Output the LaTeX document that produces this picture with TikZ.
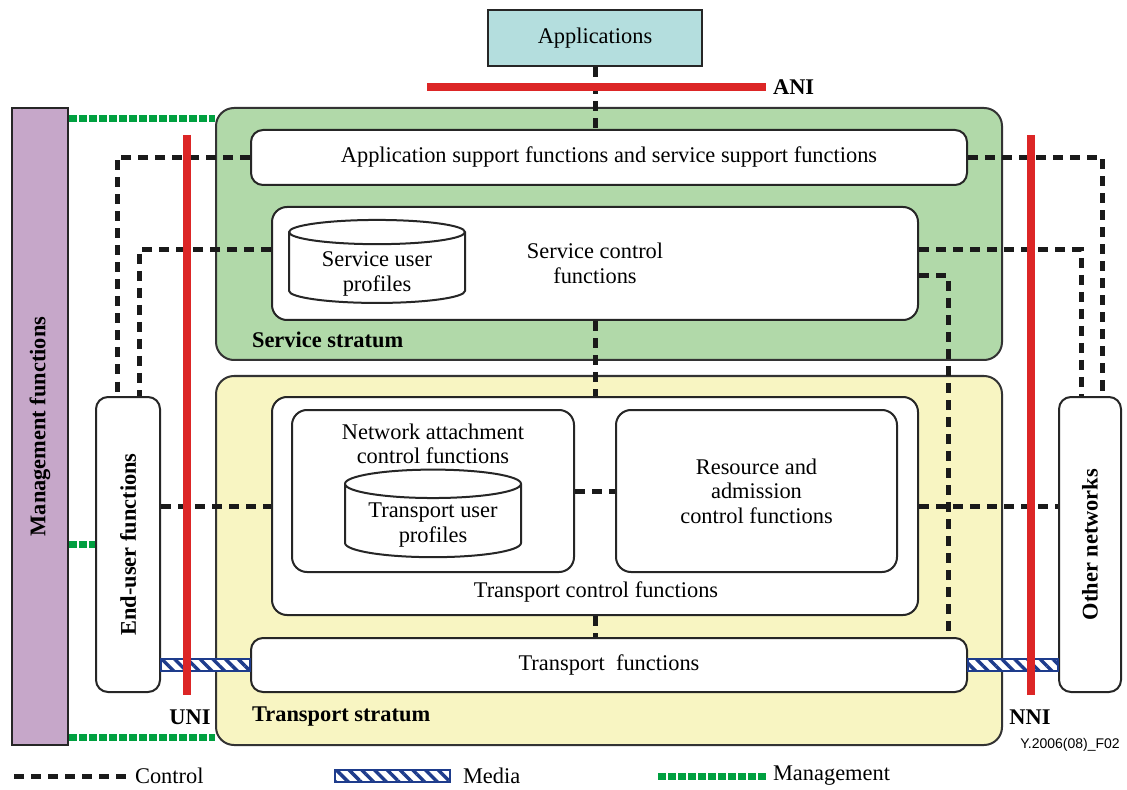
\documentclass[tikz,border=0pt]{standalone}
\usepackage{fontspec}
\setmainfont{Liberation Serif}
\newfontfamily\figfont{Liberation Sans}
\usetikzlibrary{shapes.geometric,patterns.meta}
\definecolor{appcol}{RGB}{180,222,222}
\definecolor{mgmtcol}{RGB}{198,167,201}
\definecolor{svccol}{RGB}{177,217,169}
\definecolor{trpcol}{RGB}{248,245,194}
\definecolor{ifred}{RGB}{220,38,38}
\definecolor{ctl}{RGB}{26,26,26}
\definecolor{mgtgreen}{RGB}{0,160,64}
\definecolor{medianavy}{RGB}{30,60,140}
\begin{document}
\begin{tikzpicture}[x=0.5pt,y=-0.5pt,font=\fontsize{11.2}{12.25}\selectfont]
\tikzstyle{box}=[draw=black!85,line width=1pt,fill=white,rounded corners=6pt,inner sep=0pt,align=center]
\tikzstyle{stratum}=[draw=black!80,line width=1pt,rounded corners=9pt,inner sep=0pt]
\tikzstyle{store}=[cylinder,shape border rotate=90,draw=black!85,line width=1pt,fill=white,aspect=0.22,inner sep=0pt,align=center]
\tikzstyle{control}=[draw=ctl,line width=2.5pt,dash pattern=on 5pt off 3.5pt]
\tikzstyle{mgt}=[draw=mgtgreen,line width=3.5pt,dash pattern=on 4pt off 1pt]
\tikzstyle{media}=[draw=medianavy,line width=0.8pt,preaction={fill=white},pattern={Lines[angle=-45,distance=4.5pt,line width=1.7pt]},pattern color=medianavy]
\tikzstyle{iface}=[draw=ifred,line width=4pt]
\tikzstyle{lbl}=[font=\fontsize{11.2}{12.25}\selectfont\bfseries]
\useasboundingbox (0,0) rectangle (1127,790);
\node[stratum,fill=svccol,minimum width=393pt,minimum height=126pt] (sstrat) at (609,234) {};
\node[stratum,fill=trpcol,minimum width=393pt,minimum height=184.5pt] (tstrat) at (609,560.5) {};
\node[draw=black!85,line width=1pt,fill=mgmtcol,minimum width=28pt,minimum height=318.5pt,inner sep=0pt] (mgmt) at (40,426.5) {};
\node[lbl,rotate=90] (mgmtlbl) at (mgmt) {Management functions};
\node[box,fill=appcol,rounded corners=0pt,minimum width=107pt,minimum height=28pt] (apps) at (595,38) {Applications};
\node[box,minimum width=358pt,minimum height=27.5pt] (asf) at (609,157.5) {Application support functions and service support functions};
\node[box,rounded corners=7.5pt,minimum width=323pt,minimum height=56.5pt] (scf) at (595,263.5) {Service control\\functions};
\node[store,minimum width=88pt,minimum height=41.5pt] (sup) at (377,268) {\phantom{Service user}\\\phantom{profiles}};
\node[align=center] (suplbl) at (377,274) {Service user\\profiles};
\node[box,rounded corners=7.5pt,minimum width=323pt,minimum height=109pt] (tcf) at (595,506) {};
\node (tcflbl) at (596,592) {Transport control functions};
\node[box,rounded corners=7.5pt,minimum width=141pt,minimum height=81pt] (nacf) at (433,491) {};
\node[align=center] (nacflbl) at (433,444) {Network attachment\\control functions};
\node[store,minimum width=88pt,minimum height=40pt] (tup) at (433,521) {\phantom{Transport user}\\\phantom{profiles}};
\node[align=center] (tuplbl) at (433,525) {Transport user\\profiles};
\node[box,rounded corners=7.5pt,minimum width=140.5pt,minimum height=81pt] (racf) at (756.5,491) {Resource and\\admission\\control functions};
\node[box,minimum width=358pt,minimum height=27pt] (tf) at (609,665) {Transport\ \ functions};
\node[box,minimum width=32pt,minimum height=147.5pt] (eu) at (128,544.5) {};
\node[lbl,rotate=90] (eulbl) at (eu) {End-user functions};
\node[box,minimum width=31pt,minimum height=147.5pt] (on) at (1090,544.5) {};
\node[lbl,rotate=90] (onlbl) at (on) {Other networks};
\draw[control] (apps.south) -- (apps.south |- asf.north);
\draw[control] (asf.west) -| ([xshift=-5.5pt]eu.north);
\draw[control] ([yshift=6.75pt]scf.west) -| ([xshift=5.5pt]eu.north);
\draw[control] (asf.east) -| ([xshift=6pt]on.north);
\draw[control] ([yshift=6.75pt]scf.east) -| ([xshift=-4.5pt]on.north);
\draw[control] ([yshift=-6.25pt]scf.east) -| ([xshift=-10pt]tf.north east);
\draw[control] (scf.south) -- (tcf.north);
\draw[control] (tcf.south) -- (tcf.south |- tf.north);
\draw[control] (eu.east |- tcf.west) -- (tcf.west);
\draw[control] (tcf.east) -- (tcf.east -| on.west);
\draw[control] (nacf.east) -- (racf.west);
\coordinate (mgtop) at ([yshift=-6pt]mgmt.north east);
\coordinate (mgbot) at ([yshift=4.5pt]mgmt.south east);
\draw[mgt] (mgtop) -- (mgtop -| sstrat.west);
\draw[mgt] (mgmt.east |- eu.west) -- (eu.west);
\draw[mgt] (mgbot) -- (mgbot -| tstrat.west);
\path[media] ([yshift=3pt]tf.west -| eu.east) rectangle ([yshift=-3pt]tf.west);
\path[media] ([yshift=3pt]tf.east) rectangle ([yshift=-3pt]tf.east -| on.west);
\coordinate (unitop) at (187,135);
\coordinate (unibot) at (187,695);
\coordinate (nnitop) at (1031,135);
\coordinate (nnibot) at (1031,695);
\coordinate (anil) at (427,87);
\node[lbl,anchor=west] (ani) at (766,87) {ANI};
\draw[iface] (unitop) -- (unibot);
\draw[iface] (nnitop) -- (nnibot);
\draw[iface] (anil) -- (anil -| ani.west);
\node[lbl] (uni) at (190,717) {UNI};
\node[lbl] (nni) at (1030,717) {NNI};
\node[lbl,anchor=west] (sslbl) at (245,340) {Service stratum};
\node[lbl,anchor=west] (tslbl) at (245,717) {Transport stratum};
\node[font=\figfont\fontsize{7}{8}\selectfont] (figid) at (1070,745) {Y.2006(08)\_F02};
\coordinate (lc) at (14,776);
\node[anchor=west] (lctl) at (128,776) {Control};
\draw[control] (lc) -- (lctl.west);
\coordinate (lm) at (335,770);
\node[anchor=west] (lmed) at (456,776) {Media};
\path[media] (lm) rectangle ([xshift=-3pt,yshift=-3pt]lmed.west);
\coordinate (lg) at (658,776);
\node[anchor=west] (lmgt) at (766,776) {Management};
\draw[mgt] (lg) -- (lmgt.west);
\end{tikzpicture}
\end{document}
